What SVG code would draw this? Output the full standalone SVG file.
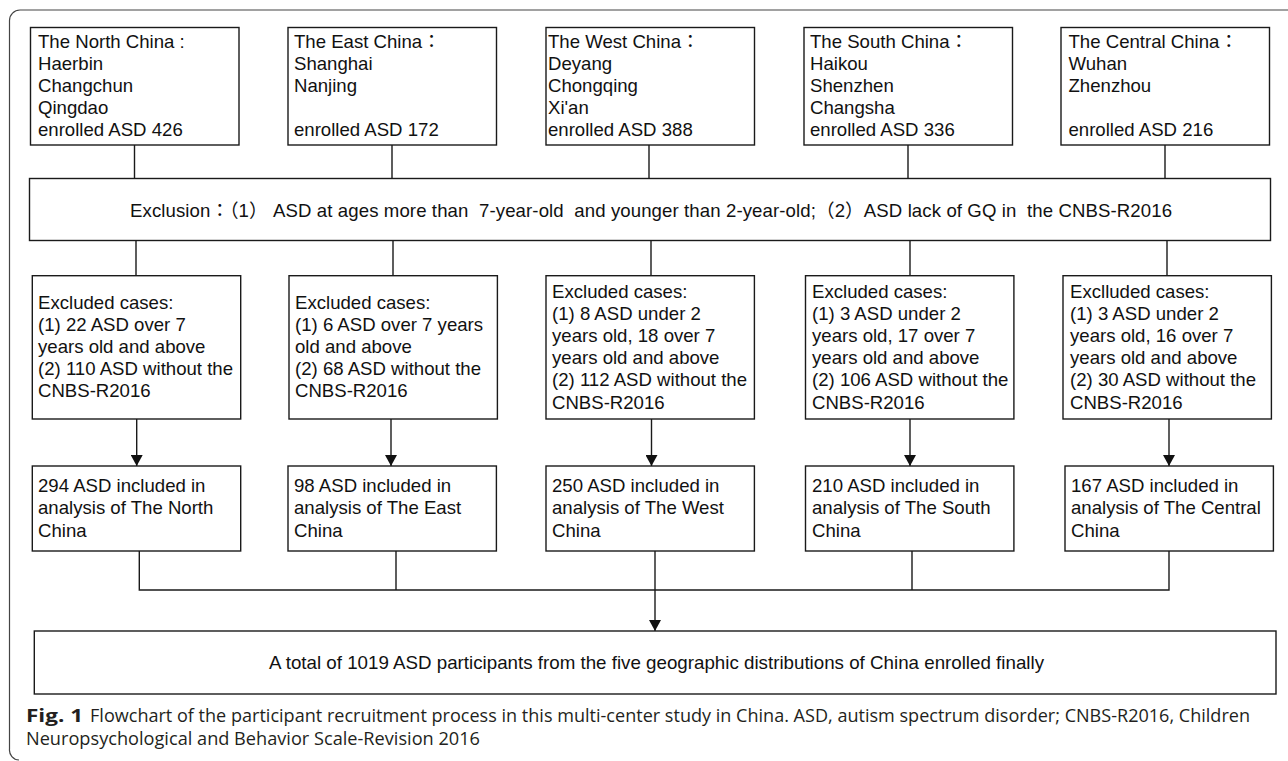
<svg xmlns="http://www.w3.org/2000/svg" width="1288" height="761" viewBox="0 0 1288 761">
<defs>
<style>
.box{fill:#fff;stroke:#1a1a1a;stroke-width:1.4}
.ln{fill:none;stroke:#1a1a1a;stroke-width:1.4}
.t{font-family:"Liberation Sans",Arial,"Noto Sans CJK TC",sans-serif;font-size:18.6px;fill:#111;white-space:pre}
.cap{font-family:"Open Sans","Noto Sans",sans-serif;font-size:17.5px;fill:#231f20}
.frame{fill:none;stroke:#444;stroke-width:1.2}
</style>
<marker id="ah" viewBox="0 0 11 12" refX="11" refY="6" markerWidth="11" markerHeight="12" markerUnits="userSpaceOnUse" orient="auto">
<path d="M0,0 L11,6 L0,12 z" fill="#111"/>
</marker>
</defs>
<rect width="1288" height="761" fill="#fff"/>
<path class="frame" d="M1288 10 H20 A10.5 10.5 0 0 0 9.5 20.5 V749 A10 10 0 0 0 19 760"/>

<g id="connectors">
<path class="ln" d="M134.5 145 V178.5 M392 145 V178.5 M649 145 V178.5 M908 145 V178.5 M1165 145 V178.5"/>
<path class="ln" d="M136 240.5 V275.7 M393 240.5 V275.7 M651 240.5 V275.7 M910 240.5 V275.7 M1167 240.5 V275.7"/>
<path class="ln" marker-end="url(#ah)" d="M136.7 419 V466"/>
<path class="ln" marker-end="url(#ah)" d="M391 419 V466"/>
<path class="ln" marker-end="url(#ah)" d="M651.5 419 V466"/>
<path class="ln" marker-end="url(#ah)" d="M910 419 V466"/>
<path class="ln" marker-end="url(#ah)" d="M1169 419 V466"/>
<path class="ln" d="M139.3 551 V590 H1169 V551 M396 551 V590 M912 551 V590"/>
<path class="ln" marker-end="url(#ah)" d="M655 551 V631"/>
</g>

<g id="north">
<rect class="box" x="30.5" y="27.5" width="208.5" height="117.5"/>
<text class="t" x="38" y="47.5">The North China :</text>
<text class="t" x="38" y="69.7">Haerbin</text>
<text class="t" x="38" y="91.9">Changchun</text>
<text class="t" x="38" y="114.1">Qingdao</text>
<text class="t" x="38" y="136.3">enrolled ASD 426</text>
</g>
<g id="east">
<rect class="box" x="288" y="27.5" width="208.5" height="117.5"/>
<text class="t" x="294" y="47.5">The East China：</text>
<text class="t" x="294" y="69.7">Shanghai</text>
<text class="t" x="294" y="91.9">Nanjing</text>
<text class="t" x="294" y="136.3">enrolled ASD 172</text>
</g>
<g id="west">
<rect class="box" x="546" y="27.5" width="208.5" height="117.5"/>
<text class="t" x="548" y="47.5">The West China：</text>
<text class="t" x="548" y="69.7">Deyang</text>
<text class="t" x="548" y="91.9">Chongqing</text>
<text class="t" x="548" y="114.1">Xi'an</text>
<text class="t" x="548" y="136.3">enrolled ASD 388</text>
</g>
<g id="south">
<rect class="box" x="804" y="27.5" width="208.5" height="117.5"/>
<text class="t" x="810" y="47.5">The South China：</text>
<text class="t" x="810" y="69.7">Haikou</text>
<text class="t" x="810" y="91.9">Shenzhen</text>
<text class="t" x="810" y="114.1">Changsha</text>
<text class="t" x="810" y="136.3">enrolled ASD 336</text>
</g>
<g id="central">
<rect class="box" x="1061" y="27.5" width="208.5" height="117.5"/>
<text class="t" x="1068.5" y="47.5">The Central China：</text>
<text class="t" x="1068.5" y="69.7">Wuhan</text>
<text class="t" x="1068.5" y="91.9">Zhenzhou</text>
<text class="t" x="1068.5" y="136.3">enrolled ASD 216</text>
</g>

<g id="exclusion">
<rect class="box" x="29.5" y="178.5" width="1241" height="62"/>
<text class="t" x="130" y="216.5" textLength="1042" lengthAdjust="spacing">Exclusion：（1） ASD at ages more than  7-year-old  and younger than 2-year-old;（2）ASD lack of GQ in  the CNBS-R2016</text>
</g>

<g id="excl-north">
<rect class="box" x="32.3" y="275.7" width="208.4" height="143.3"/>
<text class="t" x="38" y="308.5">Excluded cases:</text>
<text class="t" x="38" y="330.7">(1) 22 ASD over 7</text>
<text class="t" x="38" y="352.9">years old and above</text>
<text class="t" x="38" y="375.1">(2) 110 ASD without the</text>
<text class="t" x="38" y="397.3">CNBS-R2016</text>
</g>
<g id="excl-east">
<rect class="box" x="289" y="275.7" width="208.4" height="143.3"/>
<text class="t" x="295" y="308.5">Excluded cases:</text>
<text class="t" x="295" y="330.7">(1) 6 ASD over 7 years</text>
<text class="t" x="295" y="352.9">old and above</text>
<text class="t" x="295" y="375.1">(2) 68 ASD without the</text>
<text class="t" x="295" y="397.3">CNBS-R2016</text>
</g>
<g id="excl-west">
<rect class="box" x="546" y="275.7" width="208.4" height="143.3"/>
<text class="t" x="552" y="297.5">Excluded cases:</text>
<text class="t" x="552" y="319.7">(1) 8 ASD under 2</text>
<text class="t" x="552" y="341.9">years old, 18 over 7</text>
<text class="t" x="552" y="364.1">years old and above</text>
<text class="t" x="552" y="386.3">(2) 112 ASD without the</text>
<text class="t" x="552" y="408.5">CNBS-R2016</text>
</g>
<g id="excl-south">
<rect class="box" x="805.5" y="275.7" width="208.4" height="143.3"/>
<text class="t" x="812" y="297.5">Excluded cases:</text>
<text class="t" x="812" y="319.7">(1) 3 ASD under 2</text>
<text class="t" x="812" y="341.9">years old, 17 over 7</text>
<text class="t" x="812" y="364.1">years old and above</text>
<text class="t" x="812" y="386.3">(2) 106 ASD without the</text>
<text class="t" x="812" y="408.5">CNBS-R2016</text>
</g>
<g id="excl-central">
<rect class="box" x="1063" y="275.7" width="208.4" height="143.3"/>
<text class="t" x="1070" y="297.5">Exclluded cases:</text>
<text class="t" x="1070" y="319.7">(1) 3 ASD under 2</text>
<text class="t" x="1070" y="341.9">years old, 16 over 7</text>
<text class="t" x="1070" y="364.1">years old and above</text>
<text class="t" x="1070" y="386.3">(2) 30 ASD without the</text>
<text class="t" x="1070" y="408.5">CNBS-R2016</text>
</g>

<g id="incl-north">
<rect class="box" x="32.3" y="466" width="208.4" height="85"/>
<text class="t" x="38" y="491.7">294 ASD included in</text>
<text class="t" x="38" y="514">analysis of The North</text>
<text class="t" x="38" y="536.5">China</text>
</g>
<g id="incl-east">
<rect class="box" x="288" y="466" width="208.4" height="85"/>
<text class="t" x="294" y="491.7">98 ASD included in</text>
<text class="t" x="294" y="514">analysis of The East</text>
<text class="t" x="294" y="536.5">China</text>
</g>
<g id="incl-west">
<rect class="box" x="546" y="466" width="208.4" height="85"/>
<text class="t" x="552" y="491.7">250 ASD included in</text>
<text class="t" x="552" y="514">analysis of The West</text>
<text class="t" x="552" y="536.5">China</text>
</g>
<g id="incl-south">
<rect class="box" x="805.5" y="466" width="208.4" height="85"/>
<text class="t" x="812" y="491.7">210 ASD included in</text>
<text class="t" x="812" y="514">analysis of The South</text>
<text class="t" x="812" y="536.5">China</text>
</g>
<g id="incl-central">
<rect class="box" x="1065" y="466" width="208.4" height="85"/>
<text class="t" x="1071" y="491.7">167 ASD included in</text>
<text class="t" x="1071" y="514">analysis of The Central</text>
<text class="t" x="1071" y="536.5">China</text>
</g>

<g id="total">
<rect class="box" x="34.3" y="631" width="1241.7" height="63"/>
<text class="t" x="269" y="669" textLength="775" lengthAdjust="spacingAndGlyphs">A total of 1019 ASD participants from the five geographic distributions of China enrolled finally</text>
</g>

<g id="caption">
<text class="cap" x="26" y="722" font-weight="bold" font-size="19.5px" textLength="57" lengthAdjust="spacingAndGlyphs">Fig. 1</text>
<text class="cap" x="90" y="722" textLength="1160" lengthAdjust="spacingAndGlyphs">Flowchart of the participant recruitment process in this multi-center study in China. ASD, autism spectrum disorder; CNBS-R2016, Children</text>
<text class="cap" x="26" y="745" textLength="454" lengthAdjust="spacingAndGlyphs">Neuropsychological and Behavior Scale-Revision 2016</text>
</g>
</svg>
